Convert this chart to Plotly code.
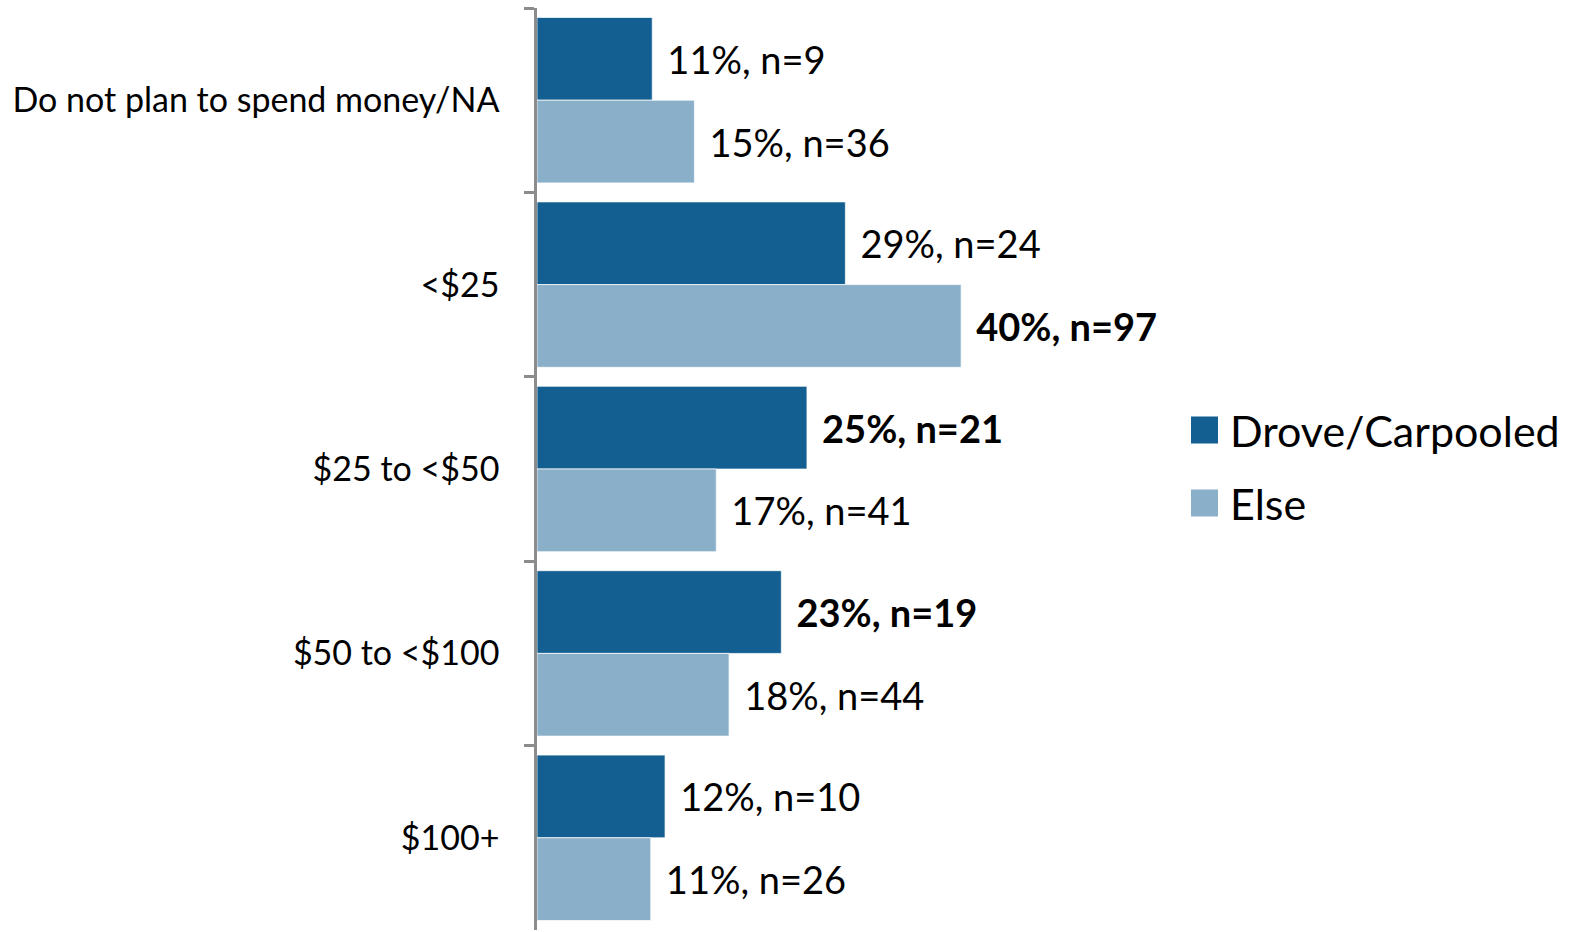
import plotly.graph_objects as go

categories = ["Do not plan to spend money/NA", "<$25", "$25 to <$50", "$50 to <$100", "$100+"]
drove_pct = [10.8, 28.9, 25.3, 22.9, 12.0]
drove_n = [9, 24, 21, 19, 10]
drove_bold = [False, False, True, True, False]
else_pct = [14.75, 39.75, 16.8, 18.0, 10.66]
else_n = [36, 97, 41, 44, 26]
else_bold = [False, True, False, False, False]
series_names = ["Drove/Carpooled", "Else"]

DARK = "#135f91"
LIGHT = "#8aafc9"
FONT = "Lato"

def labels(pcts, ns, bolds):
    out = []
    for p, n, b in zip(pcts, ns, bolds):
        s = f"{round(p):.0f}%, n={n}"
        if b:
            s = f"<b>{s}</b>"
        out.append("\u00a0\u200a" + s)
    return out

fig = go.Figure()
for name, vals, ns, bolds, col in [
    (series_names[0], drove_pct, drove_n, drove_bold, DARK),
    (series_names[1], else_pct, else_n, else_bold, LIGHT),
]:
    fig.add_trace(go.Bar(
        y=categories, x=vals, orientation="h", name=name,
        marker=dict(color=col, line=dict(color="rgba(255,255,255,0.7)", width=1)),
        text=labels(vals, ns, bolds), textposition="outside",
        textfont=dict(family=FONT, size=38, color="black"),
        cliponaxis=False, showlegend=False,
    ))

# plot area geometry (pixels)
W, H = 1575, 932
L, R, T, B = 537, 405, 8, 2
pw = W - L - R
ph = H - T - B

def px2x(px):
    return (px - L) / pw

def py2y(py):
    return 1 - (py - T) / ph

shapes = []
annotations = []
legend_rows = [(series_names[0], DARK, 430), (series_names[1], LIGHT, 503)]
for name, col, cy in legend_rows:
    shapes.append(dict(type="rect", xref="paper", yref="paper",
                       x0=px2x(1191), x1=px2x(1218), y0=py2y(cy - 13.5), y1=py2y(cy + 13.5),
                       fillcolor=col, line=dict(width=0)))
    annotations.append(dict(xref="paper", yref="paper", x=px2x(1228), y=py2y(cy),
                            xanchor="left", yanchor="middle", text=name, showarrow=False,
                            font=dict(family=FONT, size=43, color="black")))

fig.update_layout(
    width=W, height=H,
    margin=dict(l=L, r=R, t=T, b=B),
    barmode="group", bargap=0.103, bargroupgap=0,
    plot_bgcolor="white", paper_bgcolor="white",
    font=dict(family=FONT, color="black"),
    shapes=shapes, annotations=annotations,
    xaxis=dict(range=[0, pw / 10.67], visible=False, fixedrange=True),
    yaxis=dict(autorange="reversed", showline=True, linecolor="#8c8c8c", linewidth=2.5,
               ticks="outside", ticklen=10, tickwidth=2.5, tickcolor="#8c8c8c",
               tickson="boundaries", ticklabelstandoff=28, showgrid=False, fixedrange=True,
               tickfont=dict(family=FONT, size=34, color="black")),
)
fig.write_html("out.html", config={"displayModeBar": False},
               post_script="document.body.style.margin='0';document.body.style.overflow='hidden';")
